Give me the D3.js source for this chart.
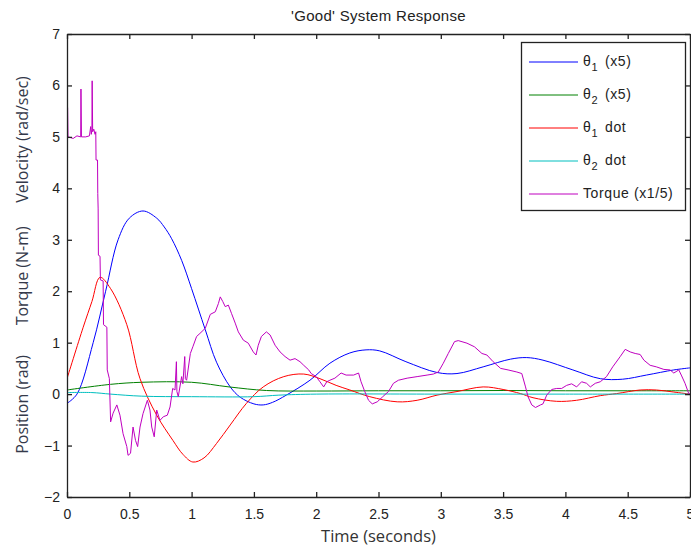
<!DOCTYPE html>
<html>
<head>
<meta charset="utf-8">
<script src="https://cdn.jsdelivr.net/npm/d3@7"></script>
<style>
  body { margin: 0; background: #fff; }
  svg { display: block; }
  .axis text { font-family: "Liberation Sans", Arial, sans-serif; font-size: 14px; fill: #222; }
  .axis path, .axis line { stroke: #222; stroke-width: 1.3; }
</style>
</head>
<body>
<div id="chart"></div>
<script>
// values: [time (s), value]
const theta1 = [[0,-0.18],[0.08,0],[0.21,1.0],[0.31,2.0],[0.41,3.0],[0.5,3.42],[0.61,3.56],[0.72,3.42],[0.78,3.25],[0.84,3.02],[0.92,2.6],[1.0,2.05],[1.11,1.25],[1.2,0.62],[1.31,0.14],[1.39,-0.06],[1.5,-0.19],[1.575,-0.21],[1.65,-0.16],[1.76,-0.02],[1.95,0.27],[2.11,0.6],[2.27,0.8],[2.4,0.86],[2.51,0.84],[2.72,0.63],[2.97,0.42],[3.13,0.40],[3.34,0.53],[3.56,0.68],[3.69,0.71],[3.82,0.66],[4.06,0.47],[4.28,0.30],[4.46,0.29],[4.65,0.37],[4.87,0.47],[5,0.51]];
const theta2 = [[0,0.08],[0.35,0.19],[0.6,0.23],[1.0,0.23],[1.3,0.14],[1.6,0.07],[2,0.06],[2.5,0.065],[3,0.065],[3.5,0.07],[4,0.065],[4.5,0.065],[5,0.065]];
const theta1dot = [[0,0.3],[0.13,1.3],[0.2,1.8],[0.265,2.27],[0.35,2.05],[0.48,1.35],[0.586,0.3],[0.72,-0.41],[0.85,-0.9],[0.93,-1.17],[1.01,-1.32],[1.1,-1.24],[1.2,-0.96],[1.31,-0.6],[1.44,-0.18],[1.575,0.14],[1.74,0.34],[1.9,0.39],[2.03,0.3],[2.16,0.17],[2.27,0.08],[2.43,-0.05],[2.65,-0.15],[2.81,-0.12],[2.97,-0.02],[3.13,0.05],[3.34,0.14],[3.5,0.09],[3.64,0.01],[3.74,-0.07],[3.93,-0.14],[4.09,-0.12],[4.28,-0.03],[4.41,0.01],[4.6,0.08],[4.73,0.08],[4.87,0.04],[5,0]];
const theta2dot = [[0,0.03],[0.2,0.03],[0.35,0.0],[0.6,-0.04],[1.0,-0.05],[1.5,-0.05],[1.7,-0.02],[2.0,0.0],[3,0],[4,0],[5,0]];
const torque = [[0,5.0],[0.001,5.57],[0.005,5.57],[0.008,5.0],[0.05,4.97],[0.08,5.02],[0.11,5.0],[0.112,5.93],[0.116,5.0],[0.15,5.0],[0.18,5.02],[0.19,5.2],[0.195,5.05],[0.2,5.15],[0.202,6.09],[0.206,5.1],[0.215,5.15],[0.225,5.05],[0.231,5.1],[0.233,4.55],[0.245,4.55],[0.247,3.9],[0.25,3.6],[0.252,2.7],[0.265,2.68],[0.268,2.22],[0.29,2.2],[0.293,1.35],[0.32,1.3],[0.323,0.47],[0.34,0.3],[0.35,-0.54],[0.37,-0.37],[0.4,-0.21],[0.425,-0.41],[0.45,-0.77],[0.48,-1.02],[0.49,-1.19],[0.51,-1.15],[0.53,-0.64],[0.55,-0.9],[0.567,-1.02],[0.586,-0.64],[0.61,-0.38],[0.645,-0.12],[0.666,-0.31],[0.68,-0.64],[0.70,-0.83],[0.72,-0.31],[0.746,-0.51],[0.773,-0.44],[0.805,-0.41],[0.827,-0.25],[0.848,0.11],[0.867,0.08],[0.878,0.63],[0.882,0.05],[0.893,-0.05],[0.92,0.34],[0.93,0.2],[0.945,0.73],[0.95,0.3],[0.96,0.27],[0.99,0.79],[1.01,0.92],[1.04,1.12],[1.067,1.18],[1.11,1.28],[1.15,1.55],[1.19,1.6],[1.215,1.76],[1.23,1.89],[1.25,1.8],[1.27,1.7],[1.295,1.73],[1.32,1.57],[1.35,1.38],[1.375,1.21],[1.415,1.05],[1.455,0.99],[1.495,0.82],[1.517,0.76],[1.535,0.95],[1.56,1.12],[1.6,1.21],[1.63,1.15],[1.67,0.95],[1.71,0.82],[1.75,0.73],[1.79,0.66],[1.83,0.69],[1.87,0.63],[1.9,0.56],[1.94,0.47],[1.96,0.4],[2.0,0.34],[2.03,0.24],[2.06,0.14],[2.085,0.24],[2.11,0.27],[2.15,0.31],[2.2,0.41],[2.24,0.37],[2.3,0.37],[2.34,0.41],[2.36,0.24],[2.39,0.05],[2.42,-0.12],[2.45,-0.19],[2.49,-0.15],[2.53,-0.06],[2.58,0.05],[2.62,0.21],[2.66,0.27],[2.73,0.31],[2.81,0.34],[2.89,0.37],[2.94,0.39],[2.98,0.43],[3.02,0.6],[3.06,0.79],[3.11,1.02],[3.14,1.04],[3.21,0.99],[3.27,0.92],[3.33,0.79],[3.37,0.76],[3.42,0.63],[3.48,0.5],[3.54,0.47],[3.61,0.43],[3.65,0.4],[3.68,0.14],[3.7,-0.05],[3.73,-0.21],[3.76,-0.26],[3.8,-0.21],[3.82,-0.19],[3.85,-0.02],[3.89,0.09],[3.93,0.11],[3.97,0.11],[4.01,0.17],[4.05,0.2],[4.09,0.14],[4.13,0.24],[4.17,0.21],[4.2,0.14],[4.24,0.21],[4.28,0.24],[4.33,0.34],[4.38,0.53],[4.44,0.73],[4.48,0.87],[4.52,0.82],[4.56,0.79],[4.6,0.77],[4.63,0.66],[4.68,0.56],[4.73,0.53],[4.79,0.48],[4.84,0.47],[4.87,0.41],[4.91,0.47],[4.93,0.37],[4.96,0.21],[4.99,0.01],[5.0,0.0]];

const xTicks = [0, 0.5, 1, 1.5, 2, 2.5, 3, 3.5, 4, 4.5, 5];
const yTicks = [-2, -1, 0, 1, 2, 3, 4, 5, 6, 7];

const series = [
  {name: "θ", sub: "1", rest: "(x5)", color: "#0000ff", data: theta1, smooth: true},
  {name: "θ", sub: "2", rest: "(x5)", color: "#008000", data: theta2, smooth: true},
  {name: "θ", sub: "1", rest: "dot", color: "#ff0000", data: theta1dot, smooth: true},
  {name: "θ", sub: "2", rest: "dot", color: "#00bfbf", data: theta2dot, smooth: true},
  {name: "Torque (x1/5)", sub: "", rest: "", color: "#bf00bf", data: torque, smooth: false}
];

const W = 691, H = 548;
const margin = {top: 34, right: 1, bottom: 51, left: 67};
const width = W - margin.left - margin.right,
      height = H - margin.top - margin.bottom;

const svg = d3.select("#chart").append("svg").attr("width", W).attr("height", H);
const g = svg.append("g").attr("transform", "translate(" + margin.left + "," + margin.top + ")");

var x = d3.scaleLinear().domain([0, 5]).range([0, width]);
var y = d3.scaleLinear().domain([-2, 7]).range([height, 0]);

g.append("clipPath").attr("id", "clip")
  .append("rect").attr("width", width).attr("height", height);

// lines
const plot = g.append("g").attr("clip-path", "url(#clip)");
series.forEach(function(s) {
  var line = d3.line()
    .x(function(d) { return x(d[0]); })
    .y(function(d) { return y(d[1]); })
    .curve(s.smooth ? d3.curveCatmullRom.alpha(0.5) : d3.curveLinear);
  plot.append("path")
    .datum(s.data)
    .attr("fill", "none")
    .attr("stroke", s.color)
    .attr("stroke-width", 1)
    .attr("d", line);
});

// axes (MATLAB style box, ticks pointing in)
g.append("g").attr("class", "axis")
  .attr("transform", "translate(0," + height + ")")
  .call(d3.axisBottom(x).tickValues(xTicks).tickFormat(d3.format("")).tickSizeInner(-5).tickSizeOuter(0).tickPadding(12));
g.append("g").attr("class", "axis")
  .call(d3.axisLeft(y).tickValues(yTicks).tickFormat(d3.format("")).tickSizeInner(-5).tickSizeOuter(0).tickPadding(7));
g.append("g").attr("class", "axis")
  .call(d3.axisTop(x).tickValues(xTicks).tickFormat("").tickSizeInner(-5).tickSizeOuter(0));
g.append("g").attr("class", "axis")
  .attr("transform", "translate(" + width + ",0)")
  .call(d3.axisRight(y).tickValues(yTicks).tickFormat("").tickSizeInner(-5).tickSizeOuter(0));

g.selectAll(".axis text").attr("font-family", null).attr("font-size", null);

// title & labels
svg.append("text")
  .attr("x", margin.left + width / 2).attr("y", 21)
  .attr("text-anchor", "middle")
  .attr("font-family", "Liberation Sans, Arial, sans-serif").attr("font-size", 15)
  .attr("letter-spacing", 0.3)
  .attr("fill", "#222")
  .text("'Good' System Response");

svg.append("text")
  .attr("x", margin.left + width / 2).attr("y", 542)
  .attr("text-anchor", "middle")
  .attr("font-family", "Open Sans, sans-serif").attr("font-size", 16.5)
  .attr("fill", "#333")
  .text("Time (seconds)");

const yLabels = [
  {text: "Velocity (rad/sec)", v: 4.95},
  {text: "Torque (N-m)", v: 2.3},
  {text: "Position (rad)", v: -0.2}
];
yLabels.forEach(function(l) {
  svg.append("text")
    .attr("transform", "translate(28," + (margin.top + y(l.v)) + ") rotate(-90)")
    .attr("text-anchor", "middle")
    .attr("font-family", "Open Sans, sans-serif").attr("font-size", 16)
    .attr("fill", "#34394a")
    .text(l.text);
});

// legend
const lg = svg.append("g").attr("transform", "translate(521,42)");
lg.append("rect")
  .attr("x", 0.5).attr("y", 0.5).attr("width", 164).attr("height", 168)
  .attr("fill", "#fff").attr("stroke", "#222").attr("stroke-width", 1.3);

const rows = lg.selectAll("g.row").data(series).enter().append("g")
  .attr("class", "row")
  .attr("transform", function(d, i) { return "translate(0," + (20 + i * 33) + ")"; });
rows.append("line")
  .attr("x1", 8).attr("x2", 57)
  .attr("stroke", function(d) { return d.color; }).attr("stroke-width", 1);
const txt = rows.append("text")
  .attr("x", 62).attr("y", 4)
  .attr("font-family", "Liberation Sans, Arial, sans-serif").attr("font-size", 14)
  .attr("letter-spacing", 0.6)
  .attr("fill", "#222");
txt.append("tspan").text(function(d) { return d.name; });
txt.append("tspan").attr("dy", 5).attr("font-size", 11).text(function(d) { return d.sub; });
txt.append("tspan")
  .attr("x", function(d) { return d.sub ? 84 : null; })
  .attr("dy", function(d) { return d.sub ? -5 : 0; })
  .text(function(d) { return d.rest; });
</script>
</body>
</html>
